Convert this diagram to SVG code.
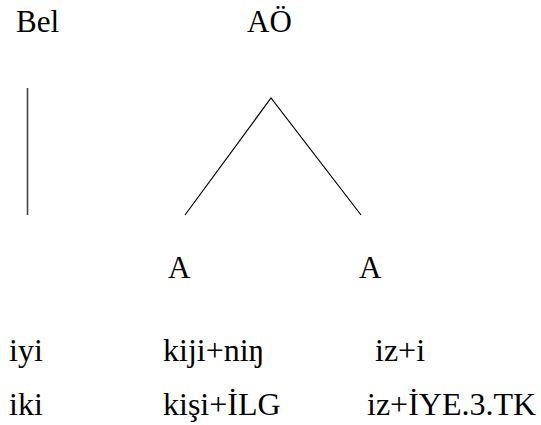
<svg xmlns="http://www.w3.org/2000/svg" width="541" height="425" viewBox="0 0 541 425">
<style>
text{font-family:"Liberation Serif","Times New Roman",serif;font-size:31px;fill:#000}
.b{font-size:32px}
.ln{stroke:#000;stroke-width:1.2;fill:none}
</style>
<rect width="541" height="425" fill="#fff"/>
<g id="connectors">
<line class="ln" x1="27.5" y1="88" y2="215" x2="27.5" style="stroke:#444;stroke-width:1.6"/>
<polyline class="ln" points="185,215 271,98 361,215"/>
</g>
<g id="bel"><text x="16" y="32">Bel</text></g>
<g id="ao"><text x="247" y="32">AÖ</text></g>
<g id="a1"><text x="168" y="278">A</text></g>
<g id="a2"><text x="359" y="278">A</text></g>
<g id="row1">
<text class="b" x="9" y="361">iyi</text>
<text class="b" x="163" y="361">kiji+niŋ</text>
<text class="b" x="375" y="361">iz+i</text>
</g>
<g id="row2">
<text class="b" x="9" y="415">iki</text>
<text class="b" x="163" y="415">kişi+İLG</text>
<text class="b" x="367" y="415">iz+İYE.3.TK</text>
</g>
</svg>
